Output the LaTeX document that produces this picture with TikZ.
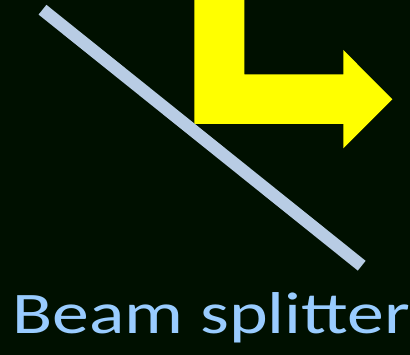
\documentclass[tikz,border=0pt]{standalone}
\usepackage{fontspec}
\setmainfont{Carlito}
\definecolor{bgdark}{HTML}{001000}
\definecolor{splitterblue}{HTML}{B8CCE4}
\definecolor{captionblue}{HTML}{99CCFF}
\definecolor{beamyellow}{HTML}{FFFF00}

\begin{document}
\begin{tikzpicture}[x=1pt, y=-1pt,
  splitter/.style={draw=splitterblue, line width=12.5pt},
  beam/.style={fill=beamyellow},
  caption/.style={text=captionblue, inner sep=0pt, anchor=base west,
                  font=\fontsize{59}{60}\selectfont, xscale=1.25}
]
  % background
  \fill[bgdark] (0,0) rectangle (410,355);
  \useasboundingbox (0,0) rectangle (410,355);
  % reflected beam
  \fill[beam] (194.3,0) -- (244.3,0) -- (244.3,74.3) -- (343.3,74.3)
    -- (343.3,50) -- (392.3,99.2) -- (343.3,148.4) -- (343.3,124)
    -- (194.3,124) -- cycle;
  % splitter plate
  \coordinate (bs top) at (42.5,9.7);
  \coordinate (bs bottom) at (361.7,265.7);
  \draw[splitter] (bs top) -- (bs bottom);
  \node[caption] (bs label) at (12.2,333.3) {Beam splitter};
\end{tikzpicture}
\end{document}
